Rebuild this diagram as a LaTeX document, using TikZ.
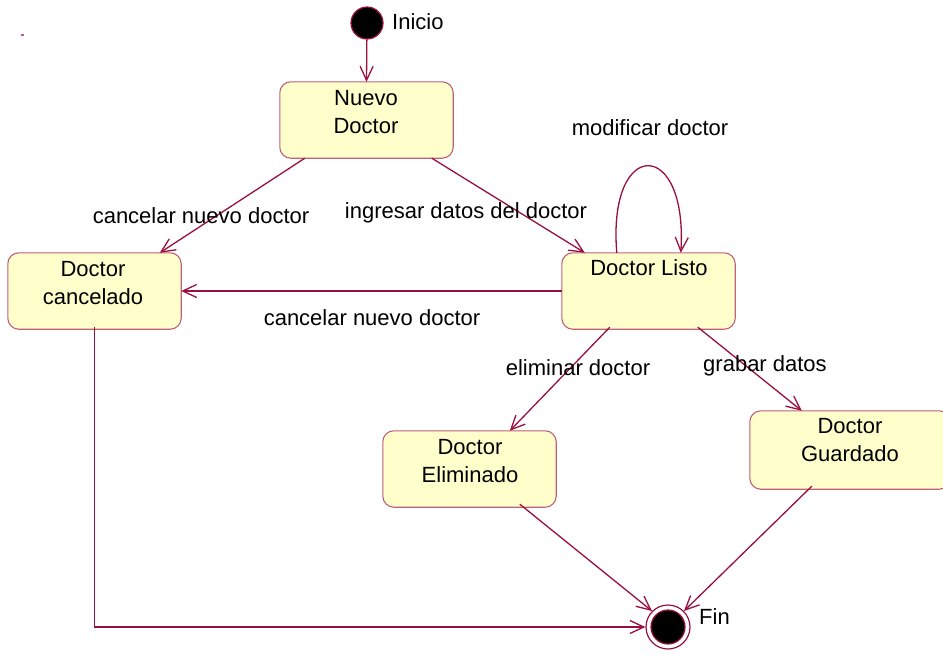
\documentclass[tikz,border=0pt]{standalone}
\usepackage{fontspec}
\setmainfont{Liberation Sans}
\usetikzlibrary{arrows.meta}
\definecolor{edge}{HTML}{99103F}
\definecolor{boxline}{HTML}{C0607A}
\definecolor{boxfill}{HTML}{FFFFCC}
\begin{document}
\begin{tikzpicture}[x=1pt,y=-1pt,
  font=\fontsize{22}{28}\selectfont,
  state/.style={draw=boxline,fill=boxfill,rounded corners=11pt,line width=1.1pt},
  txt/.style={inner sep=0pt,align=center},
  trans/.style={draw=edge,line width=1.3pt,-{Straight Barb[length=14pt,width=13pt,line width=1.3pt]}}]
\useasboundingbox (0,0) rectangle (943,654);

% states
\node[inner sep=0pt] (nuevo) at (366.5,120) [minimum width=173pt,minimum height=76pt] {};
\node[inner sep=0pt] (cancel) at (94.5,291) [minimum width=173pt,minimum height=76pt] {};
\node[inner sep=0pt] (listo) at (648.5,291) [minimum width=173pt,minimum height=76pt] {};
\node[inner sep=0pt] (elim) at (469.5,469) [minimum width=173pt,minimum height=76pt] {};
\node[inner sep=0pt] (guard) at (850,450) [minimum width=200pt,minimum height=78pt] {};
\path[state] (nuevo.north west) rectangle (nuevo.south east);
\path[state] (cancel.north west) rectangle (cancel.south east);
\path[state] (listo.north west) rectangle (listo.south east);
\path[state] (elim.north west) rectangle (elim.south east);
\path[state] (guard.north west) rectangle (guard.south east);

\node[txt] (tnuevo) at (366,112) {Nuevo\\Doctor};
\node[txt] (tcancel) at (93,283) {Doctor\\cancelado};
\node[txt] (tlisto) at (649,268) {Doctor Listo};
\node[txt] (telim) at (470,461) {Doctor\\Eliminado};
\node[txt] (tguard) at (850,440) {Doctor\\Guardado};

% pseudo states
\node[circle,draw=edge,fill=black,line width=1.2pt,minimum size=32pt,inner sep=0pt] (start) at (367,23) {};
\node[anchor=west,inner sep=0pt] (lstart) at (392,22) {Inicio};
\node[circle,draw=edge,fill=white,line width=1.2pt,minimum size=44pt,inner sep=0pt] (fin) at (668,627) {};
\node[circle,draw=edge,fill=black,line width=1.2pt,minimum size=34pt,inner sep=0pt] (finin) at (fin) {};
\node[anchor=west,inner sep=0pt] (lfin) at (699,617) {Fin};

% small mark near the top left corner
\fill[boxline] (21,34) rectangle (24,36);

% transitions
\draw[trans] (start) -- (nuevo.north);
\draw[trans] ([xshift=25pt]nuevo.south west) -- ([xshift=152pt]cancel.north west);
\draw[trans] ([xshift=152pt]nuevo.south west) -- ([xshift=23pt]listo.north west);
\draw[trans] (listo.west) -- (cancel.east);
\draw[trans] ([xshift=55pt]listo.north west) .. controls (607,137) and (688,137) .. ([xshift=119pt]listo.north west);
\draw[trans] ([xshift=48pt,yshift=2pt]listo.south west) -- ([xshift=127pt]elim.north west);
\draw[trans] ([xshift=136pt,yshift=2pt]listo.south west) -- ([xshift=52pt]guard.north west);
\draw[trans] ([xshift=137pt,yshift=3pt]elim.south west) -- (fin.north west);
\draw[trans] ([xshift=62pt,yshift=3pt]guard.south west) -- (fin.north east);
\draw[trans] ([yshift=2pt]cancel.south) |- (fin.west);

% transition labels
\node[txt] (l1) at (201,216) {cancelar nuevo doctor};
\node[txt] (l2) at (466,213) {ingresar datos del doctor};
\node[txt] (l3) at (372,318) {cancelar nuevo doctor};
\node[txt] (l4) at (650,128) {modificar doctor};
\node[txt] (l5) at (578,368) {eliminar doctor};
\node[txt] (l6) at (765,366) {grabar datos};
\end{tikzpicture}
\end{document}
